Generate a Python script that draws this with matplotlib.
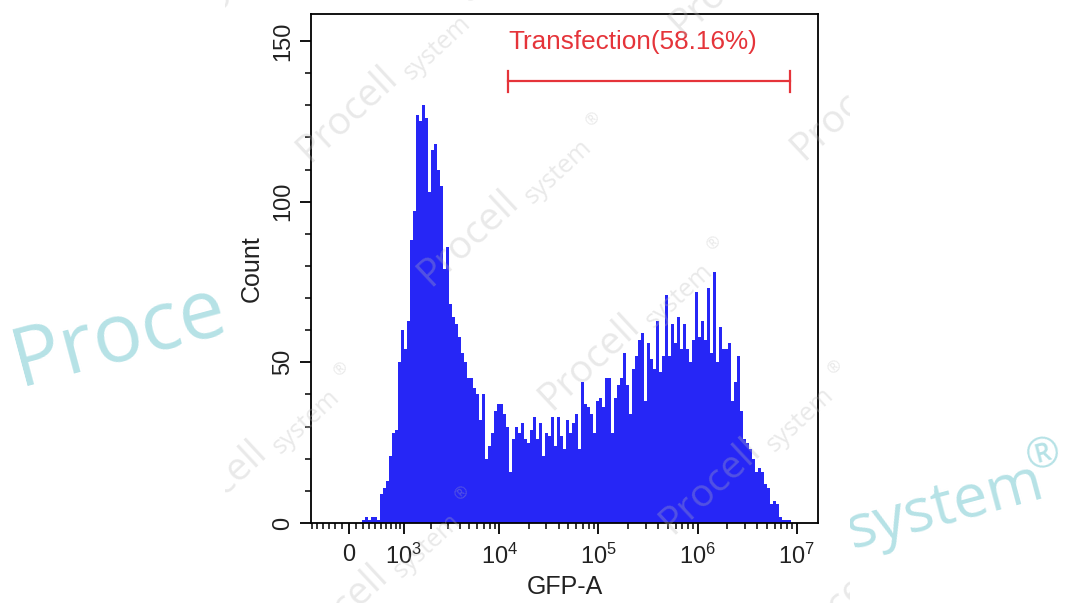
import numpy as np
import matplotlib
matplotlib.use("Agg")
import matplotlib.pyplot as plt
from matplotlib.patches import Rectangle
from matplotlib.transforms import Bbox, TransformedBbox

plt.rcParams['font.family'] = ['Liberation Sans', 'DejaVu Sans']
plt.rcParams['mathtext.fontset'] = 'custom'
plt.rcParams['mathtext.rm'] = 'Liberation Sans'
plt.rcParams['mathtext.it'] = 'Liberation Sans'

# histogram counts (bins evenly spaced on the display scale, from GFP_MIN to GFP_MAX)
counts = [0, 1, 2, 1, 2, 2, 1, 9, 11, 13, 21, 28, 29, 50, 60, 54, 63, 88, 97, 127,
          125, 130, 126, 103, 116, 118, 110, 105, 79, 86, 68, 64, 62, 58, 53, 50, 45, 45, 42, 40,
          32, 40, 20, 24, 28, 35, 37, 37, 34, 30, 16, 26, 30, 28, 31, 26, 25, 29, 33, 26,
          31, 21, 28, 27, 33, 24, 33, 27, 23, 32, 28, 31, 34, 23, 44, 37, 36, 34, 28, 38,
          39, 36, 45, 45, 28, 39, 43, 45, 53, 43, 34, 48, 52, 57, 59, 38, 56, 51, 48, 63,
          47, 52, 71, 52, 62, 56, 64, 54, 62, 54, 50, 57, 72, 58, 63, 57, 73, 53, 78, 50,
          61, 54, 54, 56, 38, 44, 52, 35, 26, 25, 23, 20, 16, 17, 16, 12, 11, 6, 7, 6,
          2, 1, 1, 1, 0]
GFP_MIN = 145
GFP_MAX = 9.35e6

x_major = [0, 1e3, 1e4, 1e5, 1e6, 1e7]
x_labels = ['0', '$10^{3}$', '$10^{4}$', '$10^{5}$', '$10^{6}$', '$10^{7}$']
y_major = [0, 50, 100, 150]

gate_lo = 1.23e4
gate_hi = 8.5e6
gate_y = 137.5
gate_text = 'Transfection(58.16%)'

W = 613.0


def fwd(x):
    return np.arcsinh(np.asarray(x, dtype=float) / W) / np.log(10)


def inv(y):
    return W * np.sinh(np.asarray(y, dtype=float) * np.log(10))


blue = '#2626f6'
red = '#e5343a'
cyan = '#b6e2e6'

fig = plt.figure(figsize=(10.65, 6.03), dpi=100)
ax = fig.add_axes([311 / 1065, 80 / 603, 507 / 1065, 509 / 603])
ax.set_xscale('function', functions=(fwd, inv))

edges = inv(np.linspace(fwd(GFP_MIN), fwd(GFP_MAX), len(counts) + 1))
ax.stairs(counts, edges, fill=True, color=blue, lw=0)

ax.set_xlim(-615, 1.64e7)
ax.set_ylim(0, 158.4)

ax.set_xticks(x_major)
ax.set_xticklabels(x_labels)
minor = [v for v in range(-600, 1000, 100) if v != 0]
for k in range(3, 7):
    minor += [m * 10 ** k for m in range(2, 10)]
ax.set_xticks(minor, minor=True)
ax.set_yticks(y_major)
ax.set_yticks(np.arange(0, 160, 10), minor=True)

ax.tick_params(axis='both', which='major', direction='out', length=8, width=1.3,
               color='black')
ax.tick_params(axis='both', which='minor', direction='out', length=4.5, width=1.1,
               color='black')
ax.tick_params(axis='x', labelsize=17, pad=7, labelcolor='#222222')
ax.tick_params(axis='y', labelsize=17, pad=4, labelcolor='#222222')
plt.setp(ax.get_yticklabels(), rotation=90, va='center')
for s in ax.spines.values():
    s.set_linewidth(1.3)

ax.set_xlabel('GFP-A', fontsize=18, color='#222222', labelpad=4)
ax.set_ylabel('Count', fontsize=18, color='#222222', labelpad=6)

# gate
ax.plot([gate_lo, gate_hi], [gate_y, gate_y], color=red, lw=1.6)
ax.plot([gate_lo, gate_lo], [gate_y - 3.3, gate_y + 3.3], color=red, lw=1.6)
ax.plot([gate_hi, gate_hi], [gate_y - 3.3, gate_y + 3.3], color=red, lw=1.6)
ax.text(gate_lo, gate_y + 12.3, gate_text, color=red, fontsize=18.8,
        ha='left', va='center')


def fp(px, py):
    return px / 1065, 1 - py / 603


# big cyan watermark, partly hidden by the chart panel
fig.text(*fp(20, 386), 'Proce', fontsize=59, color=cyan, family='Open Sans',
         rotation=15, rotation_mode='anchor', ha='left', va='baseline', zorder=-2)
fig.text(*fp(852, 548), 'system', fontsize=44, color=cyan, family='Open Sans',
         rotation=15, rotation_mode='anchor', ha='left', va='baseline', zorder=-2)
fig.text(*fp(1044, 456), '®', fontsize=30, color=cyan, family='Open Sans',
         rotation=15, ha='center', va='center', zorder=-2)
fig.add_artist(Rectangle(fp(225, 603), 625 / 1065, 1, transform=fig.transFigure,
                         facecolor='white', edgecolor='none', zorder=-1))

# light grey watermark tiles over the chart panel
clip = TransformedBbox(Bbox.from_extents(225 / 1065, 0, 850 / 1065, 1), fig.transFigure)
for i in range(-4, 5):
    for j in range(-3, 4):
        rx = 593 + 121 * i + 252 * j
        ry = 120 + 124 * i - 250 * j
        if rx < 100 or rx > 1100 or ry < -150 or ry > 800:
            continue
        t1 = fig.text(*fp(rx - 163, ry + 167), 'Procell', fontsize=28, color='#b8b8b8',
                      alpha=0.3, family='Open Sans', rotation=43, rotation_mode='anchor',
                      ha='left', va='baseline', zorder=5)
        t2 = fig.text(*fp(rx - 60, ry + 85), 'system', fontsize=18, color='#b8b8b8',
                      alpha=0.3, family='Open Sans', rotation=43, rotation_mode='anchor',
                      ha='left', va='baseline', zorder=5)
        t3 = fig.text(*fp(rx, ry), '®', fontsize=12, color='#b8b8b8', alpha=0.3,
                      family='Open Sans', rotation=43, ha='center', va='center', zorder=5)
        for t in (t1, t2, t3):
            t.set_clip_box(clip)
            t.set_clip_on(True)

fig.savefig('out.png', dpi=100)
